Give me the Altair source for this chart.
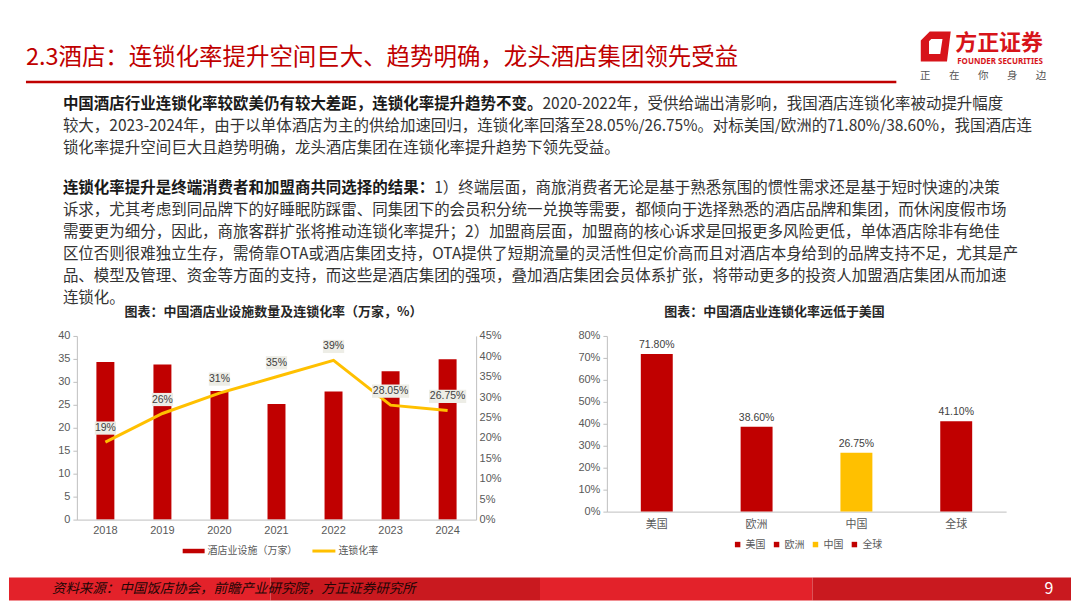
import altair as alt
import pandas as pd

# ---------------- data ----------------
years = ["2018", "2019", "2020", "2021", "2022", "2023", "2024"]
facilities = [34.3, 33.8, 28.0, 25.2, 27.9, 32.3, 34.9]          # 万家
chain_rate = [19, 26, 31, 35, 39, 28.05, 26.75]                    # %
chain_labels = ["19%", "26%", "31%", "35%", "39%", "28.05%", "26.75%"]
left_ticks = [0, 5, 10, 15, 20, 25, 30, 35, 40]
right_ticks = [0, 5, 10, 15, 20, 25, 30, 35, 40, 45]

regions = ["美国", "欧洲", "中国", "全球"]
region_rate = [71.80, 38.60, 26.75, 41.10]
region_labels = ["71.80%", "38.60%", "26.75%", "41.10%"]
region_colors = ["#C00000", "#C00000", "#FFC000", "#C00000"]
region_ticks = [0, 10, 20, 30, 40, 50, 60, 70, 80]

series_names = ["酒店业设施（万家）", "连锁化率"]
series_colors = ["#C00000", "#FFC000"]

title_text = "2.3酒店：连锁化率提升空间巨大、趋势明确，龙头酒店集团领先受益"
chart_title_left = "图表：中国酒店业设施数量及连锁化率（万家，%）"
chart_title_right = "图表：中国酒店业连锁化率远低于美国"
source_text = "资料来源：中国饭店协会，前瞻产业研究院，方正证券研究所"
page_no = "9"

para1_bold = "中国酒店行业连锁化率较欧美仍有较大差距，连锁化率提升趋势不变。"
para1 = [
    "2020-2022年，受供给端出清影响，我国酒店连锁化率被动提升幅度",
    "较大，2023-2024年，由于以单体酒店为主的供给加速回归，连锁化率回落至28.05%/26.75%。对标美国/欧洲的71.80%/38.60%，我国酒店连",
    "锁化率提升空间巨大且趋势明确，龙头酒店集团在连锁化率提升趋势下领先受益。",
]
para2_bold = "连锁化率提升是终端消费者和加盟商共同选择的结果："
para2 = [
    "1）终端层面，商旅消费者无论是基于熟悉氛围的惯性需求还是基于短时快速的决策",
    "诉求，尤其考虑到同品牌下的好睡眠防踩雷、同集团下的会员积分统一兑换等需要，都倾向于选择熟悉的酒店品牌和集团，而休闲度假市场",
    "需要更为细分，因此，商旅客群扩张将推动连锁化率提升；2）加盟商层面，加盟商的核心诉求是回报更多风险更低，单体酒店除非有绝佳",
    "区位否则很难独立生存，需倚靠OTA或酒店集团支持，OTA提供了短期流量的灵活性但定价高而且对酒店本身给到的品牌支持不足，尤其是产",
    "品、模型及管理、资金等方面的支持，而这些是酒店集团的强项，叠加酒店集团会员体系扩张，将带动更多的投资人加盟酒店集团从而加速",
    "连锁化。",
]
slogan = ["正", "在", "你", "身", "边"]

# ---------------- style ----------------
RED = "#C00000"
AX = "#BFBFBF"
LAB = "#595959"
FS = 15.5
# origin of the left plot on the page: (76, 335); decorations are placed relative to it
OX, OY = 76, 335


def lx(px):
    return px - OX


def ly(py):
    return py - OY


one = pd.DataFrame({"k": [0]})


def txt(s, x, y, align="left", **kw):
    return alt.Chart(pd.DataFrame({"t": [s]})).mark_text(
        align=align, baseline="middle", **kw
    ).encode(x=alt.value(x), y=alt.value(y), text="t:N")


def rect(x, x2, y, y2, color, opacity=1):
    return alt.Chart(one).mark_rect(color=color, opacity=opacity).encode(
        x=alt.value(x), x2=alt.value(x2), y=alt.value(y), y2=alt.value(y2)
    )


def rule(x, x2, y, color, w):
    return alt.Chart(one).mark_rule(color=color, strokeWidth=w).encode(
        x=alt.value(x), x2=alt.value(x2), y=alt.value(y)
    )


deco = []
# invisible page frame (defines full extent)
deco.append(rect(lx(8), lx(1072), ly(8), ly(600), "#FFFFFF", opacity=0))
# header
deco.append(txt(title_text, lx(25), ly(57), fontSize=23.5, color=RED))
deco.append(rule(lx(25), lx(897), ly(80.5), RED, 2.5))
ICON = "M-0.4,-1L1,-1L0.75,1L-1,1L-1,-0.4Z M-0.3,-0.5L-0.45,-0.35L-0.45,0.5L0.3,0.5L0.45,-0.5Z"
deco.append(
    alt.Chart(one).mark_point(shape=ICON, size=900, filled=True, color="#D7141A", opacity=1, strokeWidth=0)
    .encode(x=alt.value(lx(936.5)), y=alt.value(ly(45)))
)
deco.append(txt("方正证券", lx(956), ly(42), fontSize=22, fontWeight="bold", color="#D7141A"))
deco.append(txt("FOUNDER SECURITIES", lx(958), ly(60.5), fontSize=8, fontWeight="bold", color="#D7141A", font="Noto Sans"))
for i, ch in enumerate(slogan):
    deco.append(txt(ch, lx(926 + i * 29), ly(75), align="center", fontSize=10.5, color="#555555"))

# paragraphs
p1_y = [103, 125, 147]
p2_y = [187, 209, 231, 253, 275, 297]
deco.append(txt(para1_bold, lx(62), ly(p1_y[0]), fontSize=FS, fontWeight="bold", color="#1A1A1A"))
for i, line in enumerate(para1):
    x0 = lx(62) + (len(para1_bold) * FS if i == 0 else 0)
    deco.append(txt(line, x0, ly(p1_y[i]), fontSize=FS, color="#333333"))
deco.append(txt(para2_bold, lx(62), ly(p2_y[0]), fontSize=FS, fontWeight="bold", color="#1A1A1A"))
for i, line in enumerate(para2):
    x0 = lx(62) + (len(para2_bold) * FS if i == 0 else 0)
    deco.append(txt(line, x0, ly(p2_y[i]), fontSize=FS, color="#333333"))

# chart titles
deco.append(txt(chart_title_left, lx(273), ly(311), align="center", fontSize=13, fontWeight="bold", color="#262626"))
deco.append(txt(chart_title_right, lx(775), ly(311), align="center", fontSize=13, fontWeight="bold", color="#262626"))

# left legend
deco.append(rule(lx(182), lx(204), ly(550.5), series_colors[0], 4.5))
deco.append(txt(series_names[0], lx(207), ly(550.5), fontSize=10, color=LAB))
deco.append(rule(lx(312), lx(335), ly(550.5), series_colors[1], 3))
deco.append(txt(series_names[1], lx(338), ly(550.5), fontSize=10, color=LAB))

# footer band
for (a, b, c) in [(8, 270, "#E3222A"), (270, 540, "#C9191F"), (540, 813, "#E3222A"), (813, 1072, "#C9191F")]:
    deco.append(rect(lx(a), lx(b), ly(577), ly(600), c))
deco.append(txt(source_text, lx(51), ly(589), fontSize=13.5, fontStyle="italic", color="#220606"))
deco.append(txt(page_no, lx(1050), ly(589), align="center", fontSize=16, color="#FFFFFF"))

# ---------------- left chart ----------------
left_df = pd.DataFrame({"year": years, "fac": facilities, "rate": chain_rate, "label": chain_labels})

x_year = alt.X(
    "year:N", sort=years, scale=alt.Scale(paddingInner=0, paddingOuter=0),
    axis=alt.Axis(title=None, labelAngle=0, ticks=False, domainColor=AX, labelColor=LAB, zindex=1,
                  labelFontSize=11, labelFont="Liberation Sans", labelPadding=5, grid=False),
)
y_fac = alt.Y(
    "fac:Q", scale=alt.Scale(domain=[0, 40], nice=False),
    axis=alt.Axis(title=None, values=left_ticks, grid=False, domainColor=AX, tickColor=AX, tickSize=4,
                  labelColor=LAB, labelFontSize=11, labelFont="Liberation Sans", labelPadding=3, zindex=1),
)
y_rate = alt.Y(
    "rate:Q", scale=alt.Scale(domain=[0, 45], nice=False),
    axis=alt.Axis(title=None, orient="right", values=right_ticks, labelExpr="datum.value + '%'",
                  grid=False, domainColor=AX, ticks=False, labelColor=LAB, labelFontSize=11,
                  labelFont="Liberation Sans", labelPadding=3, zindex=1),
)

bars_l = alt.Chart(left_df).mark_bar(width=18, color=series_colors[0]).encode(x=x_year, y=y_fac)
line_l = alt.Chart(left_df).mark_line(color=series_colors[1], strokeWidth=3).encode(x=x_year, y=y_rate)
SHORT_BOX = "M-1,-0.62H1V0.62H-1Z"
LONG_BOX = "M-1,-0.357H1V0.357H-1Z"
box_s = alt.Chart(left_df).transform_filter("length(datum.label) <= 3").mark_point(
    shape=SHORT_BOX, size=454, filled=True, color="#EDEDE6", opacity=1, strokeWidth=0, yOffset=-14
).encode(x=x_year, y=y_rate)
box_l = alt.Chart(left_df).transform_filter("length(datum.label) > 3").mark_point(
    shape=LONG_BOX, size=1391, filled=True, color="#EDEDE6", opacity=1, strokeWidth=0, yOffset=-14
).encode(x=x_year, y=y_rate)
lab_l = alt.Chart(left_df).mark_text(
    fontSize=10.5, color="#404040", font="Liberation Sans", yOffset=-14, baseline="middle"
).encode(x=x_year, y=y_rate, text="label:N")

left_plot = alt.layer(bars_l, alt.layer(line_l, box_s, box_l, lab_l)).resolve_scale(y="independent")
left = alt.layer(*deco, left_plot).properties(width=400, height=184)

# ---------------- right chart ----------------
right_df = pd.DataFrame({"region": regions, "rate": region_rate, "label": region_labels})
x_reg = alt.X(
    "region:N", sort=regions, scale=alt.Scale(paddingInner=0, paddingOuter=0),
    axis=alt.Axis(title=None, labelAngle=0, ticks=False, domainColor=AX, labelColor=LAB,
                  labelFontSize=11, labelPadding=7, grid=False),
)
y_reg = alt.Y(
    "rate:Q", scale=alt.Scale(domain=[0, 80], nice=False),
    axis=alt.Axis(title=None, values=region_ticks, labelExpr="datum.value + '%'", grid=False,
                  domainColor=AX, tickColor=AX, tickSize=4, labelColor=LAB, labelFontSize=11,
                  labelFont="Liberation Sans", labelPadding=3),
)
color_reg = alt.Color(
    "region:N", sort=regions, scale=alt.Scale(domain=regions, range=region_colors),
    legend=alt.Legend(title=None, orient="none", legendX=126, legendY=204, direction="horizontal",
                      symbolType="square", symbolSize=30, symbolStrokeWidth=0, labelFontSize=10,
                      labelColor=LAB, labelOffset=3, columnPadding=6),
)
bars_r = alt.Chart(right_df).mark_bar(width=32).encode(x=x_reg, y=y_reg, color=color_reg)
lab_r = alt.Chart(right_df).mark_text(
    baseline="bottom", dy=-4, fontSize=10.5, color="#404040", font="Liberation Sans"
).encode(x=x_reg, y=y_reg, text="label:N")
right = alt.layer(bars_r, lab_r).properties(width=400, height=176)

chart = (
    alt.hconcat(left, right, spacing=131, bounds="flush")
    .resolve_scale(color="independent")
    .properties(padding=0)
    .configure(font="Noto Sans CJK SC")
    .configure_view(stroke="transparent")
)

chart.save("out.html", embed_options={"renderer": "svg", "actions": False})
